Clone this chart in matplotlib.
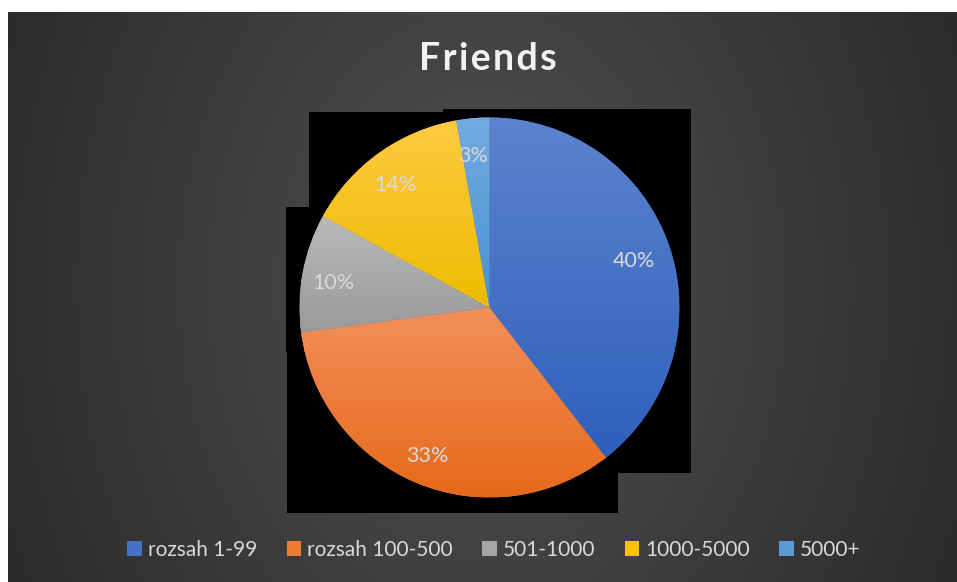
import numpy as np
import matplotlib.pyplot as plt
from matplotlib.patches import Patch, Rectangle
from matplotlib.colors import LinearSegmentedColormap

W, H = 957, 582

labels = ['rozsah 1-99', 'rozsah 100-500', '501-1000', '1000-5000', '5000+']
values = [39.5, 33.4, 10.1, 14.2, 2.8]
legend_colors = ['#4472c4', '#ed7d31', '#a5a5a5', '#ffc000', '#5b9bd5']
top_colors = ['#5d83ce', '#f38f5b', '#b9b9b9', '#ffca42', '#72abdf']
bottom_colors = ['#2e60bc', '#e6691a', '#9a9a9a', '#edbb00', '#4a92d6']
title = 'Friends'

# black boxes sitting behind the pie (image px: x0, y0, x1, y1)
shadow_boxes = [(309, 112, 491, 210), (286, 207, 491, 352),
                (287, 350, 618, 513), (443, 109, 691, 473)]

fig = plt.figure(figsize=(W / 100, H / 100), dpi=100, facecolor='white')
ax = fig.add_axes([0, 0, 1, 1])

# dark radial background, white strip top and left
xx, yy = np.meshgrid(np.arange(8, W) + 0.5, np.arange(12, H) + 0.5)
r = np.sqrt(((xx - 482) / 560.0) ** 2 + ((yy - 285) / 750.0) ** 2)
v = (0x51 - (0x51 - 0x28) * np.clip(r, 0, 1)) / 255.0
bg = np.dstack([v, v, v])
ax.imshow(bg, extent=(8, W, 0, H - 12), origin='upper', zorder=0,
          interpolation='bilinear', aspect='auto')

for x0, y0, x1, y1 in shadow_boxes:
    ax.add_patch(Rectangle((x0, H - y1), x1 - x0, y1 - y0,
                           facecolor='black', edgecolor='none', zorder=1))

cx, cy, rad = 489.5, H - 307.5, 190
wedges, _, autotexts = ax.pie(values, center=(cx, cy), radius=rad,
                              startangle=90, counterclock=False,
                              colors=legend_colors, autopct='%1.0f%%',
                              pctdistance=0.82,
                              wedgeprops=dict(edgecolor='none', zorder=2),
                              textprops=dict(color='#d9d9d9', fontsize=15.5,
                                             family='Lato'))

for w, c0, c1 in zip(wedges, top_colors, bottom_colors):
    ext = w.get_path().get_extents()
    cmap = LinearSegmentedColormap.from_list('g', [c1, c0])
    grad = np.linspace(0, 1, 256).reshape(-1, 1)
    im = ax.imshow(grad, cmap=cmap, origin='lower', aspect='auto',
                   extent=(ext.x0, ext.x1, ext.y0, ext.y1), zorder=3)
    im.set_clip_path(w)

for t in autotexts:
    t.set_zorder(5)
    x, y = t.get_position()
    t.set_position((x - 3, y - 4))

ax.set_xlim(0, W)
ax.set_ylim(0, H)
ax.axis('off')

# hair spaces between letters to mimic the spaced-out title
ax.text(487.5, H - 59, '\u200a'.join(title), ha='center', va='center',
        color='#f2f2f2', fontsize=27, fontweight='bold',
        family=['Lato', 'DejaVu Sans'], zorder=6)

handles = [Patch(facecolor=c, edgecolor='none') for c in legend_colors]
leg = fig.legend(handles, labels, loc='center', ncol=5,
                 bbox_to_anchor=(494 / W, (H - 550) / H), frameon=False,
                 handlelength=0.7, handleheight=0.7, handletextpad=0.3,
                 columnspacing=1.4, prop=dict(family='Lato', size=15))
for t in leg.get_texts():
    t.set_color('#d9d9d9')

fig.savefig('out.png', dpi=100, facecolor='white')
